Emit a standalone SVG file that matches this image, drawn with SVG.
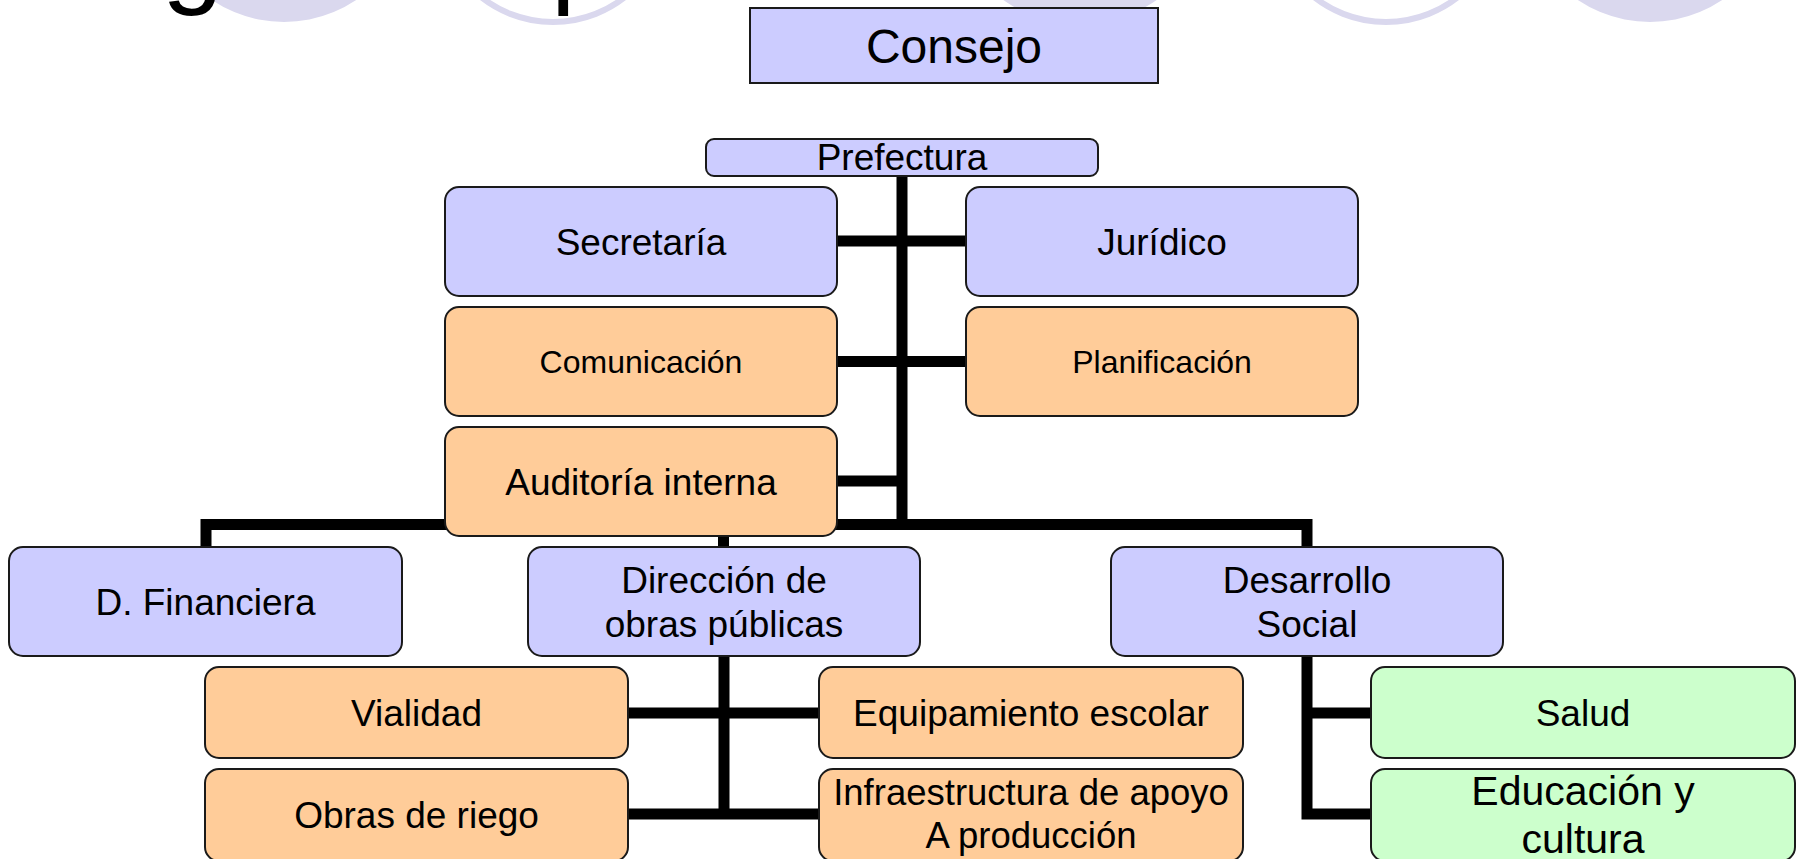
<svg xmlns="http://www.w3.org/2000/svg" width="1803" height="859" viewBox="0 0 1803 859">
<style>
text{font-family:"Liberation Sans",Arial,sans-serif;fill:#000;text-anchor:middle}
.box{stroke:#1a1a1a;stroke-width:2}
.lav{fill:#CCCCFF}
.ora{fill:#FFCC99}
.grn{fill:#CCFFCC}
.t37{font-size:37px}
.t32{font-size:32px}
.conn{fill:none;stroke:#000;stroke-width:11;stroke-linejoin:miter}
.deco{fill:#DAD8EE}
.ring{fill:none;stroke:#DAD8EE;stroke-width:6}
</style>
<rect width="1803" height="859" fill="#fff"/>
<g id="background">
  <circle class="deco" cx="284" cy="-108" r="130"/>
  <circle class="ring" cx="553" cy="-94" r="116"/>
  <circle class="deco" cx="1080" cy="-105" r="130"/>
  <circle class="ring" cx="1386" cy="-94" r="116"/>
  <circle class="deco" cx="1650" cy="-108" r="130"/>
  <text x="162" y="-7" style="font-size:110px;text-anchor:start">g</text>
  <text x="551" y="-7" style="font-size:110px;text-anchor:start">p</text>
</g>
<g id="connectors">
  <path class="conn" d="M902 176 V524.5"/>
  <path class="conn" d="M837 241 H966"/>
  <path class="conn" d="M837 361.5 H966"/>
  <path class="conn" d="M837 481 H902"/>
  <path class="conn" d="M206 547 V524.5 H1307 V547"/>
  <path class="conn" d="M723.5 524 V547"/>
  <path class="conn" d="M724 657 V814"/>
  <path class="conn" d="M628 713 H819"/>
  <path class="conn" d="M628 814 H819"/>
  <path class="conn" d="M1307 657 V814 H1371"/>
  <path class="conn" d="M1307 713 H1371"/>
</g>
<g id="consejo">
  <rect class="box lav" x="750" y="8" width="408" height="75"/>
  <text x="954" y="63" style="font-size:48px">Consejo</text>
</g>
<g id="prefectura">
  <rect class="box lav" x="706" y="139" width="392" height="37" rx="8"/>
  <text class="t37" x="902" y="170">Prefectura</text>
</g>
<g id="secretaria">
  <rect class="box lav" x="445" y="187" width="392" height="109" rx="14"/>
  <text class="t37" x="641" y="255">Secretaría</text>
</g>
<g id="juridico">
  <rect class="box lav" x="966" y="187" width="392" height="109" rx="14"/>
  <text class="t37" x="1162" y="255">Jurídico</text>
</g>
<g id="comunicacion">
  <rect class="box ora" x="445" y="307" width="392" height="109" rx="14"/>
  <text class="t32" x="641" y="373">Comunicación</text>
</g>
<g id="planificacion">
  <rect class="box ora" x="966" y="307" width="392" height="109" rx="14"/>
  <text class="t32" x="1162" y="373">Planificación</text>
</g>
<g id="auditoria">
  <rect class="box ora" x="445" y="427" width="392" height="109" rx="14"/>
  <text class="t37" x="641" y="495">Auditoría interna</text>
</g>
<g id="financiera">
  <rect class="box lav" x="9" y="547" width="393" height="109" rx="14"/>
  <text class="t37" x="205.5" y="615">D. Financiera</text>
</g>
<g id="direccion">
  <rect class="box lav" x="528" y="547" width="392" height="109" rx="14"/>
  <text class="t37" x="724" y="593">Dirección de</text>
  <text class="t37" x="724" y="637">obras públicas</text>
</g>
<g id="desarrollo">
  <rect class="box lav" x="1111" y="547" width="392" height="109" rx="14"/>
  <text class="t37" x="1307" y="593">Desarrollo</text>
  <text class="t37" x="1307" y="637">Social</text>
</g>
<g id="vialidad">
  <rect class="box ora" x="205" y="667" width="423" height="91" rx="14"/>
  <text class="t37" x="416.5" y="726">Vialidad</text>
</g>
<g id="equipamiento">
  <rect class="box ora" x="819" y="667" width="424" height="91" rx="14"/>
  <text class="t37" x="1031" y="726">Equipamiento escolar</text>
</g>
<g id="salud">
  <rect class="box grn" x="1371" y="667" width="424" height="91" rx="14"/>
  <text class="t37" x="1583" y="726">Salud</text>
</g>
<g id="obras-riego">
  <rect class="box ora" x="205" y="769" width="423" height="92" rx="14"/>
  <text class="t37" x="416.5" y="828">Obras de riego</text>
</g>
<g id="infraestructura">
  <rect class="box ora" x="819" y="769" width="424" height="92" rx="14"/>
  <text x="1031" y="805" style="font-size:36.5px">Infraestructura de apoyo</text>
  <text x="1031" y="848" style="font-size:36.5px">A producción</text>
</g>
<g id="educacion">
  <rect class="box grn" x="1371" y="769" width="424" height="92" rx="14"/>
  <text x="1583" y="805" style="font-size:41px">Educación y</text>
  <text x="1583" y="853" style="font-size:41px">cultura</text>
</g>
</svg>
